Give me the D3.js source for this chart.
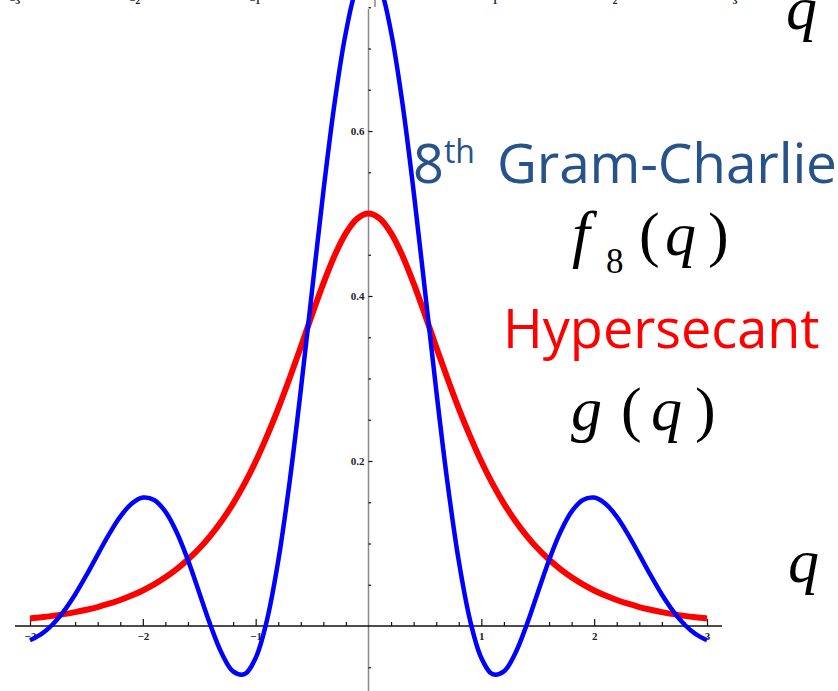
<!DOCTYPE html>
<html>
<head>
<meta charset="utf-8">
<script src="https://cdn.jsdelivr.net/npm/d3@7"></script>
<style>
  body { margin: 0; background: #fff; }
  svg { display: block; }
</style>
</head>
<body>
<script>
// q grid the curves were read on
var qValues = [-3.0,-2.9,-2.8,-2.7,-2.6,-2.5,-2.4,-2.3,-2.2,-2.1,-2.0,-1.9,-1.8,-1.7,-1.6,-1.5,-1.4,-1.3,-1.2,-1.1,
  -1.0,-0.9,-0.8,-0.7,-0.6,-0.5,-0.4,-0.3,-0.2,-0.1,0.0,0.1,0.2,0.3,0.4,0.5,0.6,0.7,0.8,0.9,
  1.0,1.1,1.2,1.3,1.4,1.5,1.6,1.7,1.8,1.9,2.0,2.1,2.2,2.3,2.4,2.5,2.6,2.7,2.8,2.9,3.0];

// 8th order Gram-Charlier curve (blue)
var gramCharlier = [-0.0173,-0.0099,0.0018,0.0180,0.0382,0.0616,0.0866,0.1111,0.1326,0.1483,0.1557,0.1528,0.1387,0.1137,0.0798,0.0404,0.0007,-0.0333,-0.0550,-0.0584,
  -0.0387,0.0070,0.0788,0.1737,0.2860,0.4070,0.5268,0.6344,0.7199,0.7748,0.7937,0.7748,0.7199,0.6344,0.5268,0.4070,0.2860,0.1737,0.0788,0.0070,
  -0.0387,-0.0584,-0.0550,-0.0333,0.0007,0.0404,0.0798,0.1137,0.1387,0.1528,0.1557,0.1483,0.1326,0.1111,0.0866,0.0616,0.0382,0.0180,0.0018,-0.0099,-0.0173];

// hypersecant curve (red)
var hypersecant = [0.0090,0.0105,0.0123,0.0144,0.0168,0.0197,0.0230,0.0270,0.0315,0.0369,0.0431,0.0504,0.0590,0.0689,0.0805,0.0939,0.1096,0.1276,0.1484,0.1722,
  0.1993,0.2301,0.2635,0.2999,0.3383,0.3775,0.4153,0.4492,0.4763,0.4939,0.5000,0.4939,0.4763,0.4492,0.4153,0.3775,0.3383,0.2999,0.2635,0.2301,
  0.1993,0.1722,0.1484,0.1276,0.1096,0.0939,0.0805,0.0689,0.0590,0.0504,0.0431,0.0369,0.0315,0.0270,0.0230,0.0197,0.0168,0.0144,0.0123,0.0105,0.0090];

// ticks
var xMajor = [-3, -2, -1, 1, 2, 3];
var xMinor = [-2.8,-2.6,-2.4,-2.2,-1.8,-1.6,-1.4,-1.2,-0.8,-0.6,-0.4,-0.2,0.2,0.4,0.6,0.8,1.2,1.4,1.6,1.8,2.2,2.4,2.6,2.8];
var yMajor = [0.2, 0.4, 0.6];
var yMinor = [-0.05,0.05,0.1,0.15,0.25,0.3,0.35,0.45,0.5,0.55,0.65,0.7,0.75];
var topLabels = [-3, -2, -1, 1, 2, 3];

var width = 838, height = 691;

var svg = d3.select("body").append("svg")
    .attr("width", width)
    .attr("height", height);

// set the ranges
var x = d3.scaleLinear().domain([-3, 3]).range([30, 707]);
var y = d3.scaleLinear().domain([0, 0.6]).range([626, 131]);
// second (cut off) frame at the very top
var xTop = d3.scaleLinear().domain([-3, 3]).range([15, 735]);

var tickFont = "Liberation Serif";

// top strip of tick labels, mostly cut off
svg.append("g").selectAll("text")
    .data(topLabels)
  .enter().append("text")
    .attr("x", function(d) { return xTop(d); })
    .attr("y", 4)
    .attr("text-anchor", "middle")
    .attr("font-family", tickFont)
    .attr("font-size", 10)
    .attr("font-weight", "bold")
    .attr("fill", "#222")
    .text(function(d) { return d < 0 ? "\u2212" + (-d) : d; });
svg.append("line")
    .attr("x1", xTop(0)).attr("x2", xTop(0))
    .attr("y1", 0).attr("y2", 7)
    .attr("stroke", "#888").attr("stroke-width", 1.5);

// y axis
var yAxisG = svg.append("g")
    .attr("transform", "translate(" + x(0) + ",0)");
yAxisG.append("line")
    .attr("y1", 9).attr("y2", height)
    .attr("stroke", "#888").attr("stroke-width", 1.5);
yAxisG.append("g")
    .call(d3.axisLeft(y).tickValues(yMajor).tickSize(-4).tickPadding(4).tickFormat(d3.format(".1f")))
    .call(function(g) { g.select(".domain").remove(); });
yAxisG.append("g")
    .call(d3.axisLeft(y).tickValues(yMinor).tickSize(-2.5).tickFormat(""))
    .call(function(g) { g.select(".domain").remove(); });

// x axis
var xAxisG = svg.append("g")
    .attr("transform", "translate(0," + y(0) + ")");
xAxisG.append("line")
    .attr("x1", 15).attr("x2", 722)
    .attr("stroke", "#111").attr("stroke-width", 1.5);
xAxisG.append("g")
    .call(d3.axisBottom(x).tickValues(xMajor).tickSize(-7).tickPadding(6).tickFormat(d3.format("d")))
    .call(function(g) { g.select(".domain").remove(); });
xAxisG.append("g")
    .call(d3.axisBottom(x).tickValues(xMinor).tickSize(-4).tickFormat(""))
    .call(function(g) { g.select(".domain").remove(); });

svg.selectAll(".tick text")
    .attr("font-family", tickFont)
    .attr("font-size", 11)
    .attr("font-weight", "bold")
    .attr("fill", "#222");
svg.selectAll(".tick line")
    .attr("stroke", "#111")
    .attr("stroke-width", 1.2);

// define the lines
var line = function(values) {
  return d3.line()
      .x(function(d, i) { return x(qValues[i]); })
      .y(function(d) { return y(d); })
      .curve(d3.curveCatmullRom)(values);
};

svg.append("path")
    .attr("d", line(hypersecant))
    .attr("fill", "none")
    .attr("stroke", "#ff0000")
    .attr("stroke-width", 6);

svg.append("path")
    .attr("d", line(gramCharlier))
    .attr("fill", "none")
    .attr("stroke", "#0000ff")
    .attr("stroke-width", 4.5);

// annotations
var sans = "Open Sans";
var serif = "Liberation Serif";

var gc = svg.append("text")
    .attr("x", 413).attr("y", 183)
    .attr("font-family", sans)
    .attr("font-size", 54)
    .attr("fill", "#28528a");
gc.append("tspan").text("8");
gc.append("tspan").attr("font-size", 32).attr("dy", -20).text("th");

svg.append("text")
    .attr("x", 497).attr("y", 183)
    .attr("font-family", sans)
    .attr("font-size", 55)
    .attr("fill", "#28528a")
    .attr("textLength", 340)
    .attr("lengthAdjust", "spacing")
    .text("Gram-Charlie");

svg.append("text")
    .attr("x", 503).attr("y", 348)
    .attr("font-family", sans)
    .attr("font-size", 54)
    .attr("fill", "#ff0000")
    .text("Hypersecant");

// math labels
function mathText(xp, yp, str, italic, size) {
  svg.append("text")
      .attr("x", xp).attr("y", yp)
      .attr("font-family", serif)
      .attr("font-style", italic ? "italic" : "normal")
      .attr("font-size", size)
      .attr("fill", "#000")
      .text(str);
}
// f8(q)
mathText(572, 255, "f", true, 64);
mathText(606, 273, "8", false, 35);
mathText(639, 255, "(", false, 62);
mathText(665, 255, "q", true, 62);
mathText(708, 255, ")", false, 62);
// g(q)
mathText(571, 430, "g", true, 62);
mathText(621, 430, "(", false, 62);
mathText(651, 430, "q", true, 62);
mathText(695, 430, ")", false, 62);
// axis symbols
mathText(786, 29, "q", true, 62);
mathText(788, 582, "q", true, 62);
</script>
</body>
</html>
